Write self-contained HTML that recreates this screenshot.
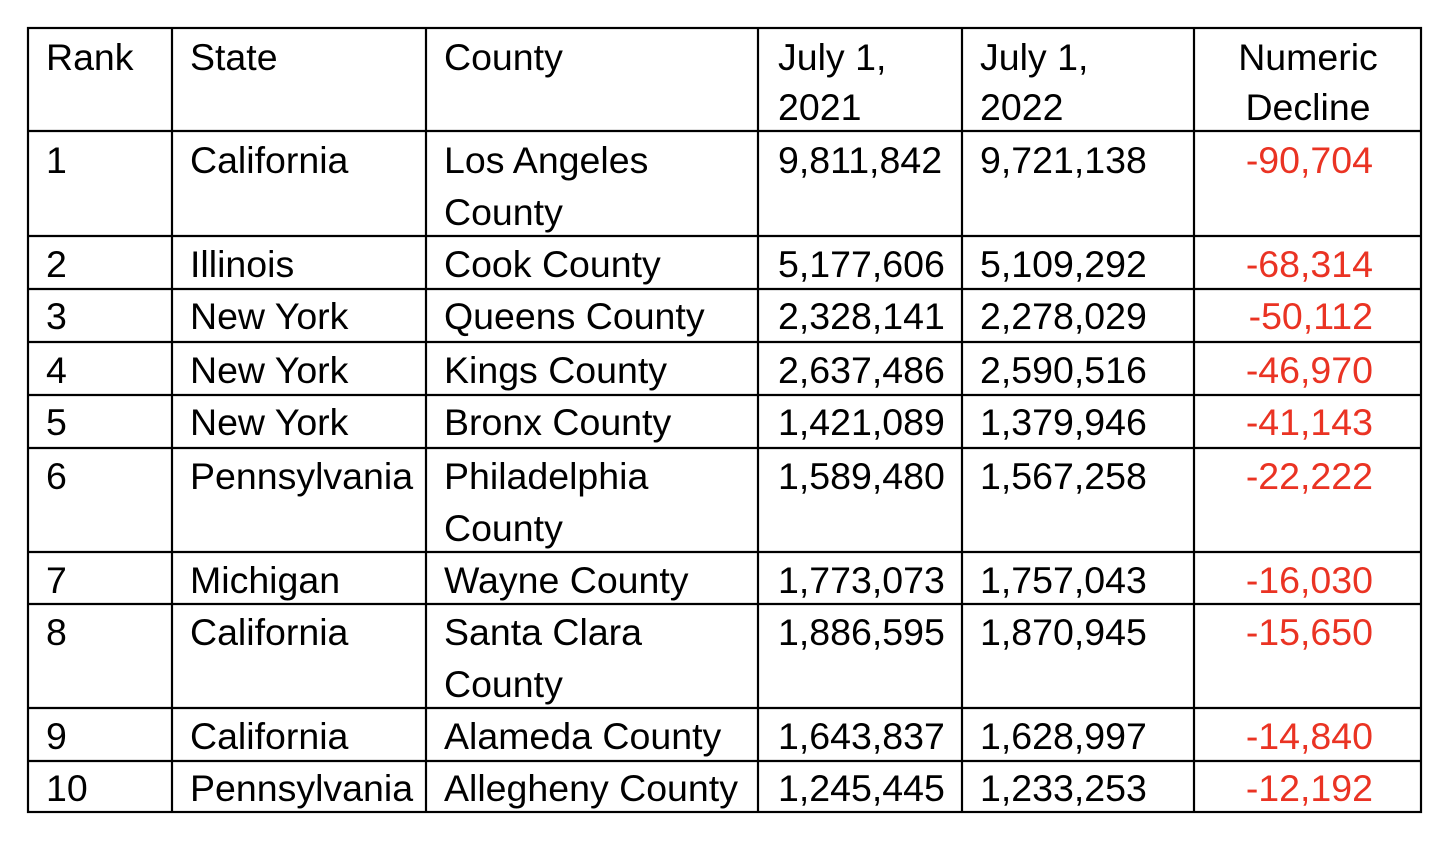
<!DOCTYPE html>
<html><head><meta charset="utf-8"><style>html,body{margin:0;padding:0;background:#fff;}svg{display:block}</style></head>
<body>
<svg width="1455" height="852" xmlns="http://www.w3.org/2000/svg" font-family="Liberation Sans, sans-serif" font-size="37.5">
<g stroke="#000" stroke-width="2.2" fill="none">
<rect x="28" y="28" width="1393" height="784"/>
<line x1="172" y1="28" x2="172" y2="812"/>
<line x1="426" y1="28" x2="426" y2="812"/>
<line x1="758" y1="28" x2="758" y2="812"/>
<line x1="962" y1="28" x2="962" y2="812"/>
<line x1="1194" y1="28" x2="1194" y2="812"/>
<line x1="28" y1="131" x2="1421" y2="131"/>
<line x1="28" y1="236" x2="1421" y2="236"/>
<line x1="28" y1="289" x2="1421" y2="289"/>
<line x1="28" y1="342" x2="1421" y2="342"/>
<line x1="28" y1="395" x2="1421" y2="395"/>
<line x1="28" y1="448" x2="1421" y2="448"/>
<line x1="28" y1="552" x2="1421" y2="552"/>
<line x1="28" y1="604" x2="1421" y2="604"/>
<line x1="28" y1="708" x2="1421" y2="708"/>
<line x1="28" y1="761" x2="1421" y2="761"/>
</g>
<g fill="#000">
<text x="46" y="70">Rank</text><text x="190" y="70">State</text><text x="444" y="70">County</text>
<text x="778" y="70">July 1,</text><text x="778" y="120">2021</text>
<text x="980" y="70">July 1,</text><text x="980" y="120">2022</text>
<text x="1308" y="70" text-anchor="middle">Numeric</text><text x="1308" y="120" text-anchor="middle">Decline</text>

<text x="46" y="173">1</text><text x="190" y="173">California</text><text x="444" y="173">Los Angeles</text><text x="444" y="225">County</text><text x="778" y="173">9,811,842</text><text x="980" y="173">9,721,138</text>
<text x="46" y="277">2</text><text x="190" y="277">Illinois</text><text x="444" y="277">Cook County</text><text x="778" y="277">5,177,606</text><text x="980" y="277">5,109,292</text>
<text x="46" y="329">3</text><text x="190" y="329">New York</text><text x="444" y="329">Queens County</text><text x="778" y="329">2,328,141</text><text x="980" y="329">2,278,029</text>
<text x="46" y="383">4</text><text x="190" y="383">New York</text><text x="444" y="383">Kings County</text><text x="778" y="383">2,637,486</text><text x="980" y="383">2,590,516</text>
<text x="46" y="435">5</text><text x="190" y="435">New York</text><text x="444" y="435">Bronx County</text><text x="778" y="435">1,421,089</text><text x="980" y="435">1,379,946</text>
<text x="46" y="489">6</text><text x="190" y="489">Pennsylvania</text><text x="444" y="489">Philadelphia</text><text x="444" y="541">County</text><text x="778" y="489">1,589,480</text><text x="980" y="489">1,567,258</text>
<text x="46" y="593">7</text><text x="190" y="593">Michigan</text><text x="444" y="593">Wayne County</text><text x="778" y="593">1,773,073</text><text x="980" y="593">1,757,043</text>
<text x="46" y="645">8</text><text x="190" y="645">California</text><text x="444" y="645">Santa Clara</text><text x="444" y="697">County</text><text x="778" y="645">1,886,595</text><text x="980" y="645">1,870,945</text>
<text x="46" y="749">9</text><text x="190" y="749">California</text><text x="444" y="749">Alameda County</text><text x="778" y="749">1,643,837</text><text x="980" y="749">1,628,997</text>
<text x="46" y="801">10</text><text x="190" y="801">Pennsylvania</text><text x="444" y="801">Allegheny County</text><text x="778" y="801">1,245,445</text><text x="980" y="801">1,233,253</text>
</g>
<g fill="#ea3323" text-anchor="end">
<text x="1373" y="173">-90,704</text>
<text x="1373" y="277">-68,314</text>
<text x="1373" y="329">-50,112</text>
<text x="1373" y="383">-46,970</text>
<text x="1373" y="435">-41,143</text>
<text x="1373" y="489">-22,222</text>
<text x="1373" y="593">-16,030</text>
<text x="1373" y="645">-15,650</text>
<text x="1373" y="749">-14,840</text>
<text x="1373" y="801">-12,192</text>
</g>
</svg>
</body></html>
